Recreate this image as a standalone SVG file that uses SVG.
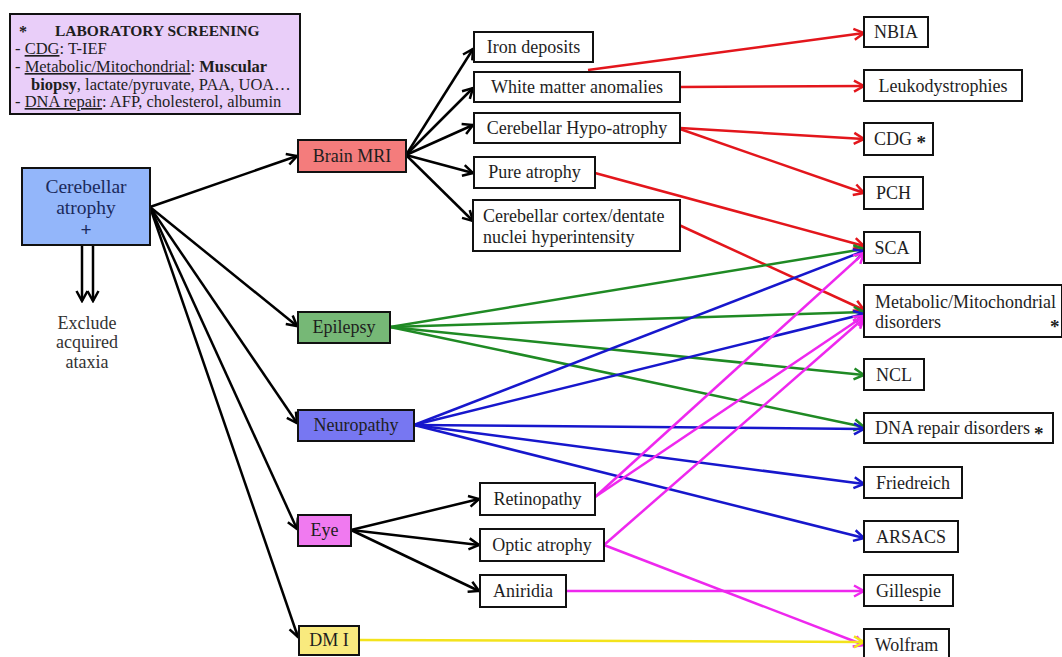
<svg xmlns="http://www.w3.org/2000/svg" width="1062" height="657" viewBox="0 0 1062 657">
<style>
text{font-family:"Liberation Serif","Times New Roman",serif;fill:#1e1e1e}
.box{fill:#fff;stroke:#111;stroke-width:2}
.lbl{font-size:18px;text-anchor:middle}
.rl{font-size:18px}
.lab{font-size:16.5px}
.u{text-decoration:underline}
.b{font-weight:bold}
.ast{font-weight:bold;font-size:19px}
.k{stroke:#000;stroke-width:2.5;fill:none}
.r{stroke:#e3161c;stroke-width:2.5;fill:none}
.g{stroke:#1f8a24;stroke-width:2.5;fill:none}
.bl{stroke:#1717cc;stroke-width:2.5;fill:none}
.m{stroke:#ee28ee;stroke-width:2.5;fill:none}
.y{stroke:#f3e31c;stroke-width:2.5;fill:none}
</style>
<defs>
<marker id="ak" viewBox="0 0 14 14" refX="12" refY="7" markerWidth="14" markerHeight="14" orient="auto" markerUnits="userSpaceOnUse"><path d="M2,1.5 L12,7 L2,12.5" fill="none" stroke="#000" stroke-width="2.5"/></marker>
<marker id="ar" viewBox="0 0 14 14" refX="12" refY="7" markerWidth="14" markerHeight="14" orient="auto" markerUnits="userSpaceOnUse"><path d="M2,1.5 L12,7 L2,12.5" fill="none" stroke="#e3161c" stroke-width="2.5"/></marker>
<marker id="ag" viewBox="0 0 14 14" refX="12" refY="7" markerWidth="14" markerHeight="14" orient="auto" markerUnits="userSpaceOnUse"><path d="M2,1.5 L12,7 L2,12.5" fill="none" stroke="#1f8a24" stroke-width="2.5"/></marker>
<marker id="ab" viewBox="0 0 14 14" refX="12" refY="7" markerWidth="14" markerHeight="14" orient="auto" markerUnits="userSpaceOnUse"><path d="M2,1.5 L12,7 L2,12.5" fill="none" stroke="#1717cc" stroke-width="2.5"/></marker>
<marker id="am" viewBox="0 0 14 14" refX="12" refY="7" markerWidth="14" markerHeight="14" orient="auto" markerUnits="userSpaceOnUse"><path d="M2,1.5 L12,7 L2,12.5" fill="none" stroke="#ee28ee" stroke-width="2.5"/></marker>
<marker id="ay" viewBox="0 0 14 14" refX="12" refY="7" markerWidth="14" markerHeight="14" orient="auto" markerUnits="userSpaceOnUse"><path d="M2,1.5 L12,7 L2,12.5" fill="none" stroke="#f3e31c" stroke-width="2.5"/></marker>
</defs>
<rect width="1062" height="657" fill="#fff"/>

<g id="connectors">
<g id="black">
<line class="k" x1="82" y1="245" x2="82" y2="301" marker-end="url(#ak)"/>
<line class="k" x1="93" y1="245" x2="93" y2="301" marker-end="url(#ak)"/>
<line class="k" x1="150" y1="207" x2="297" y2="156" marker-end="url(#ak)"/>
<line class="k" x1="150" y1="207" x2="297" y2="326" marker-end="url(#ak)"/>
<line class="k" x1="150" y1="207" x2="297" y2="423" marker-end="url(#ak)"/>
<line class="k" x1="150" y1="207" x2="297" y2="529" marker-end="url(#ak)"/>
<line class="k" x1="150" y1="207" x2="298" y2="637" marker-end="url(#ak)"/>
<line class="k" x1="406" y1="155" x2="473" y2="49" marker-end="url(#ak)"/>
<line class="k" x1="406" y1="155" x2="473" y2="88" marker-end="url(#ak)"/>
<line class="k" x1="406" y1="155" x2="473" y2="125" marker-end="url(#ak)"/>
<line class="k" x1="406" y1="155" x2="473" y2="173" marker-end="url(#ak)"/>
<line class="k" x1="406" y1="155" x2="473" y2="221" marker-end="url(#ak)"/>
<line class="k" x1="351" y1="530" x2="479" y2="499" marker-end="url(#ak)"/>
<line class="k" x1="351" y1="530" x2="479" y2="545" marker-end="url(#ak)"/>
<line class="k" x1="351" y1="530" x2="479" y2="591" marker-end="url(#ak)"/>
</g>
<g id="red">
<line class="r" x1="588" y1="70" x2="864" y2="33" marker-end="url(#ar)"/>
<line class="r" x1="680" y1="87" x2="864" y2="86" marker-end="url(#ar)"/>
<line class="r" x1="680" y1="128" x2="864" y2="139" marker-end="url(#ar)"/>
<line class="r" x1="680" y1="129" x2="864" y2="193" marker-end="url(#ar)"/>
<line class="r" x1="595" y1="173" x2="864" y2="246" marker-end="url(#ar)"/>
<line class="r" x1="679" y1="225" x2="864" y2="310" marker-end="url(#ar)"/>
</g>
<g id="green">
<line class="g" x1="390" y1="327" x2="864" y2="249" marker-end="url(#ag)"/>
<line class="g" x1="390" y1="327" x2="864" y2="312" marker-end="url(#ag)"/>
<line class="g" x1="390" y1="327" x2="864" y2="375" marker-end="url(#ag)"/>
<line class="g" x1="390" y1="327" x2="864" y2="427" marker-end="url(#ag)"/>
</g>
<g id="blue">
<line class="bl" x1="414" y1="425" x2="864" y2="251" marker-end="url(#ab)"/>
<line class="bl" x1="414" y1="425" x2="864" y2="314" marker-end="url(#ab)"/>
<line class="bl" x1="414" y1="425" x2="864" y2="429" marker-end="url(#ab)"/>
<line class="bl" x1="414" y1="425" x2="864" y2="484" marker-end="url(#ab)"/>
<line class="bl" x1="414" y1="425" x2="864" y2="538" marker-end="url(#ab)"/>
</g>
<g id="magenta">
<line class="m" x1="595" y1="497" x2="864" y2="253" marker-end="url(#am)"/>
<line class="m" x1="595" y1="497" x2="864" y2="316" marker-end="url(#am)"/>
<line class="m" x1="604" y1="545" x2="864" y2="318" marker-end="url(#am)"/>
<line class="m" x1="604" y1="545" x2="864" y2="645" marker-end="url(#am)"/>
<line class="m" x1="566" y1="591" x2="864" y2="591" marker-end="url(#am)"/>
</g>
<g id="yellow">
<line class="y" x1="359" y1="640" x2="864" y2="642" marker-end="url(#ay)"/>
</g>
</g>

<g id="lab-screening">
<rect x="10" y="14" width="290" height="100" fill="#e9cef9" stroke="#111" stroke-width="2"/>
<text class="b" x="19" y="37" font-size="16px">*</text>
<text class="b" x="55" y="36" font-size="15.5px">LABORATORY SCREENING</text>
<text class="lab" x="15" y="54">- <tspan class="u">CDG</tspan>: T-IEF</text>
<text class="lab" x="15" y="72">- <tspan class="u">Metabolic/Mitochondrial</tspan>: <tspan class="b">Muscular</tspan></text>
<text class="lab" x="31" y="90"><tspan class="b">biopsy</tspan>, lactate/pyruvate, PAA, UOA…</text>
<text class="lab" x="15" y="107">- <tspan class="u">DNA repair</tspan>: AFP, cholesterol, albumin</text>
</g>

<g id="cerebellar-atrophy">
<rect x="22" y="168" width="128" height="77" fill="#93b6fa" stroke="#111" stroke-width="2"/>
<text x="86" y="193" text-anchor="middle" font-size="19.5px" style="fill:#1b2a5c">Cerebellar</text>
<text x="86" y="214" text-anchor="middle" font-size="19.5px" style="fill:#1b2a5c">atrophy</text>
<text x="86" y="236" text-anchor="middle" font-size="19.5px" font-weight="bold" style="fill:#1b2a5c">+</text>
</g>

<g id="exclude-acquired-ataxia">
<text x="87" y="329" text-anchor="middle" font-size="18px" style="fill:#333">Exclude</text>
<text x="87" y="348" text-anchor="middle" font-size="18px" style="fill:#333">acquired</text>
<text x="87" y="368" text-anchor="middle" font-size="18px" style="fill:#333">ataxia</text>
</g>

<g id="brain-mri"><rect x="298" y="140" width="108" height="32" fill="#f47c7c" stroke="#111" stroke-width="2"/><text class="lbl" x="352" y="162">Brain MRI</text></g>
<g id="epilepsy"><rect x="298" y="312" width="92" height="31" fill="#76b876" stroke="#111" stroke-width="2"/><text class="lbl" x="344" y="333">Epilepsy</text></g>
<g id="neuropathy"><rect x="298" y="410" width="116" height="31" fill="#7777f2" stroke="#111" stroke-width="2"/><text class="lbl" x="356" y="431">Neuropathy</text></g>
<g id="eye"><rect x="298" y="515" width="53" height="31" fill="#f07af0" stroke="#111" stroke-width="2"/><text class="lbl" x="324.5" y="536">Eye</text></g>
<g id="dm-i"><rect x="299" y="626" width="60" height="29" fill="#f9ea7e" stroke="#111" stroke-width="2"/><text class="lbl" x="329" y="646">DM I</text></g>

<g id="iron-deposits"><rect class="box" x="474" y="32" width="119" height="30"/><text class="lbl" x="533.5" y="53">Iron deposits</text></g>
<g id="white-matter-anomalies"><rect class="box" x="474" y="72" width="206" height="30"/><text class="lbl" x="577" y="93">White matter anomalies</text></g>
<g id="cerebellar-hypo-atrophy"><rect class="box" x="474" y="113" width="206" height="30"/><text class="lbl" x="577" y="134">Cerebellar Hypo-atrophy</text></g>
<g id="pure-atrophy"><rect class="box" x="474" y="157" width="121" height="31"/><text class="lbl" x="534.5" y="178">Pure atrophy</text></g>
<g id="cerebellar-cortex"><rect class="box" x="473" y="200" width="207" height="51"/><text class="rl" x="483" y="222">Cerebellar cortex/dentate</text><text class="rl" x="483" y="243">nuclei hyperintensity</text></g>

<g id="retinopathy"><rect class="box" x="480" y="483" width="115" height="32"/><text class="lbl" x="537.5" y="505">Retinopathy</text></g>
<g id="optic-atrophy"><rect class="box" x="480" y="529" width="124" height="32"/><text class="lbl" x="542" y="551">Optic atrophy</text></g>
<g id="aniridia"><rect class="box" x="480" y="575" width="86" height="32"/><text class="lbl" x="523" y="597">Aniridia</text></g>

<g id="nbia"><rect class="box" x="864" y="17" width="64" height="30"/><text class="lbl" x="896" y="38">NBIA</text></g>
<g id="leukodystrophies"><rect class="box" x="864" y="70" width="158" height="31"/><text class="lbl" x="943" y="92">Leukodystrophies</text></g>
<g id="cdg"><rect class="box" x="864" y="123" width="69" height="32"/><text class="rl" x="874" y="145">CDG <tspan class="ast" dy="4">*</tspan></text></g>
<g id="pch"><rect class="box" x="864" y="177" width="59" height="32"/><text class="lbl" x="893.5" y="199">PCH</text></g>
<g id="sca"><rect class="box" x="864" y="232" width="56" height="31"/><text class="lbl" x="892" y="254">SCA</text></g>
<g id="metabolic-mitochondrial"><rect class="box" x="864" y="285" width="198" height="52"/><text class="rl" x="875" y="308">Metabolic/Mitochondrial</text><text class="rl" x="875" y="328">disorders</text><text class="ast" x="1050" y="333">*</text></g>
<g id="ncl"><rect class="box" x="864" y="359" width="60" height="31"/><text class="lbl" x="894" y="381">NCL</text></g>
<g id="dna-repair"><rect class="box" x="864" y="413" width="189" height="30"/><text class="rl" x="875" y="434">DNA repair disorders</text><text class="ast" x="1034" y="440">*</text></g>
<g id="friedreich"><rect class="box" x="864" y="467" width="98" height="31"/><text class="lbl" x="913" y="489">Friedreich</text></g>
<g id="arsacs"><rect class="box" x="864" y="521" width="94" height="31"/><text class="lbl" x="911" y="543">ARSACS</text></g>
<g id="gillespie"><rect class="box" x="864" y="575" width="89" height="31"/><text class="lbl" x="908.5" y="597">Gillespie</text></g>
<g id="wolfram"><rect class="box" x="864" y="629" width="85" height="32"/><text class="lbl" x="906.5" y="651">Wolfram</text></g>
</svg>
